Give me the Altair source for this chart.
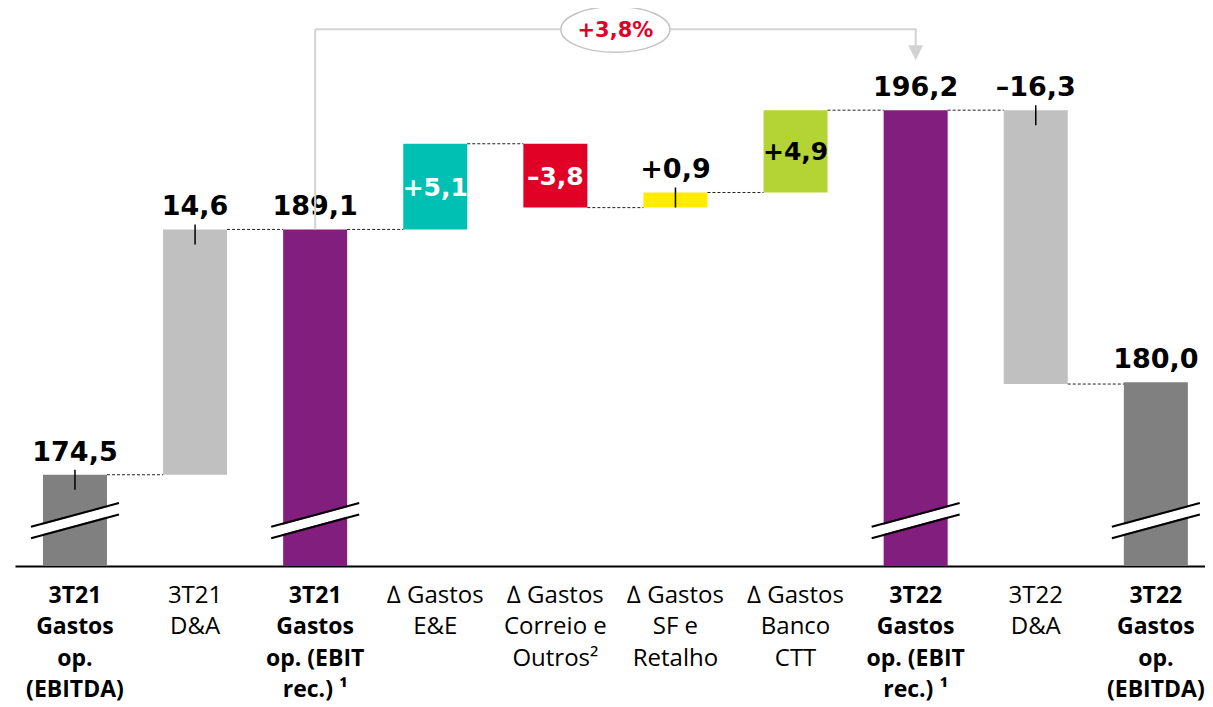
import altair as alt
import pandas as pd

# ---------------- data ----------------
categories = ["c01", "c02", "c03", "c04", "c05", "c06", "c07", "c08", "c09", "c10"]
axis_labels = [
    "3T21\nGastos\nop.\n(EBITDA)",
    "3T21\nD&A",
    "3T21\nGastos\nop. (EBIT\nrec.) ¹",
    "∆ Gastos\nE&E",
    "∆ Gastos\nCorreio e\nOutros²",
    "∆ Gastos\nSF e\nRetalho",
    "∆ Gastos\nBanco\nCTT",
    "3T22\nGastos\nop. (EBIT\nrec.) ¹",
    "3T22\nD&A",
    "3T22\nGastos\nop.\n(EBITDA)",
]
label_bold = [True, False, True, False, False, False, False, True, False, True]
kinds = ["total", "delta", "total", "delta", "delta", "delta", "delta", "total", "delta", "total"]
values = [174.5, 14.6, 189.1, 5.1, -3.8, 0.9, 4.9, 196.2, -16.3, 180.0]
value_text = ["174,5", "14,6", "189,1", "+5,1", "–3,8", "+0,9", "+4,9", "196,2", "–16,3", "180,0"]
label_place = ["above", "above", "above", "inside_white", "inside_white", "above",
               "inside_black", "above", "above", "above"]
has_tick = [True, True, False, False, False, True, False, False, True, False]
bar_colors = ["#808080", "#c0c0c0", "#821e7e", "#00bfb3", "#e10026", "#ffec00",
              "#b4d334", "#821e7e", "#c0c0c0", "#808080"]
growth_text = "+3,8%"
growth_from = "c03"
growth_to = "c08"
growth_mid = "c05"

# axis break (scale starts above zero)
y_min, y_max = 169.07, 202.28
break_level = 171.77

# ---------------- build waterfall table ----------------
rows = []
level = y_min
for i, c in enumerate(categories):
    v = values[i]
    if kinds[i] == "total":
        start, end = y_min, v
        level = v
    else:
        start, end = level, level + v
        level = end
    rows.append(dict(cat=c, label=axis_labels[i], bold=label_bold[i], kind=kinds[i],
                     start=start, end=end, top=max(start, end), mid=(start + end) / 2,
                     txt=value_text[i], place=label_place[i], tick=has_tick[i], level=level))
df = pd.DataFrame(rows)

conn = pd.DataFrame({
    "cat": categories[:-1],
    "next": categories[1:],
    "level": [r["level"] for r in rows[:-1]],
})
breaks = df[df["kind"] == "total"][["cat"]].assign(b=break_level)

xscale = alt.Scale(domain=categories, paddingInner=0.467, paddingOuter=0.1878, align=0.62)
yscale = alt.Scale(domain=[y_min, y_max], nice=False, zero=False)

X = alt.X("cat:N", sort=categories, scale=xscale,
          axis=alt.Axis(labels=False, ticks=False, title=None, domainColor="black",
                        domainWidth=2, grid=False))

base = alt.Chart(df)

bars = base.mark_bar().encode(
    x=X,
    y=alt.Y("start:Q", scale=yscale, axis=None),
    y2="end:Q",
    color=alt.Color("cat:N", scale=alt.Scale(domain=categories, range=bar_colors), legend=None),
)

connectors = alt.Chart(conn).mark_rule(
    xOffset=32, x2Offset=-32, strokeDash=[3, 2], strokeWidth=1, color="#222222"
).encode(x="cat:N", x2="next:N", y="level:Q")

# axis breaks
brk_white = alt.Chart(breaks).mark_rule(
    xOffset=-44, x2Offset=44, yOffset=12, y2Offset=-12, strokeWidth=9, color="white"
).encode(x="cat:N", x2="cat:N", y="b:Q", y2="b:Q")
brk_a = alt.Chart(breaks).mark_rule(
    xOffset=-44, x2Offset=44, yOffset=6.2, y2Offset=-17.6, strokeWidth=2, color="black"
).encode(x="cat:N", x2="cat:N", y="b:Q", y2="b:Q")
brk_b = alt.Chart(breaks).mark_rule(
    xOffset=-44, x2Offset=44, yOffset=17.6, y2Offset=-6.2, strokeWidth=2, color="black"
).encode(x="cat:N", x2="cat:N", y="b:Q", y2="b:Q")

num_font = dict(font="DejaVu Sans", fontWeight="bold", fontSize=27)
in_font = dict(font="DejaVu Sans", fontWeight="bold", fontSize=25)

above = base.transform_filter(alt.datum.place == "above").mark_text(
    dy=-14, baseline="alphabetic", color="black", **num_font
).encode(x="cat:N", y="top:Q", text="txt:N")

inside_w = base.transform_filter(alt.datum.place == "inside_white").mark_text(
    baseline="middle", dy=1, color="white", **in_font
).encode(x="cat:N", y="mid:Q", text="txt:N")

inside_b = base.transform_filter(alt.datum.place == "inside_black").mark_text(
    baseline="middle", dy=1, color="black", **in_font
).encode(x="cat:N", y="mid:Q", text="txt:N")

ticks = base.transform_filter(alt.datum.tick == True).mark_rule(
    yOffset=-5, y2Offset=15, strokeWidth=1.5, color="black"
).encode(x="cat:N", y="top:Q", y2="top:Q")

lab_common = dict(font="Open Sans", baseline="alphabetic", align="center",
                  lineBreak="\n", lineHeight=31.3, color="black")
labels_bold = base.transform_filter(alt.datum.bold == True).mark_text(
    fontWeight="bold", fontSize=23, **lab_common
).encode(x="cat:N", y=alt.value(595), text="label:N")
labels_norm = base.transform_filter(alt.datum.bold == False).mark_text(
    fontWeight="normal", fontSize=24, **lab_common
).encode(x="cat:N", y=alt.value(595), text="label:N")

# growth annotation
ann_src = df[df["cat"] == growth_from][["cat", "top"]]
ann = pd.DataFrame({"a": [growth_from], "b": [growth_to], "m": [growth_mid], "t": [growth_text]})
gray = "#d3d3d3"
v1 = alt.Chart(ann_src).mark_rule(color=gray, strokeWidth=2).encode(
    x="cat:N", y="top:Q", y2=alt.value(21.3))
h1 = alt.Chart(ann).mark_rule(color=gray, strokeWidth=2).encode(
    x="a:N", x2="b:N", y=alt.value(21.3))
v2 = alt.Chart(ann).mark_rule(color=gray, strokeWidth=2).encode(
    x="b:N", y=alt.value(20.3), y2=alt.value(38))
arrow = alt.Chart(ann).mark_point(
    shape="M-1,-1L1,-1L0,1Z", filled=True, color=gray, size=225, opacity=1
).encode(x="b:N", y=alt.value(44.8))
ellipse = alt.Chart(ann).mark_point(
    shape="M-1,0A1,0.42,0,1,1,1,0A1,0.42,0,1,1,-1,0Z", filled=False, fill="white",
    fillOpacity=1, stroke="#c4c4c4", strokeWidth=1.5, size=109 * 109, xOffset=60, opacity=1
).encode(x="m:N", y=alt.value(21.4))
gtext = alt.Chart(ann).mark_text(
    dx=60, dy=1.5, baseline="middle", color="#e10026", font="DejaVu Sans",
    fontWeight="bold", fontSize=21
).encode(x="m:N", y=alt.value(21.4), text="t:N")

chart = alt.layer(
    bars, connectors, brk_white, brk_a, brk_b, ticks, above, inside_w, inside_b,
    labels_bold, labels_norm, v1, h1, v2, arrow, ellipse, gtext
).properties(
    width=1190, height=558,
    background="white",
    autosize=alt.AutoSizeParams(type="none"),
    padding={"left": 7, "top": 0, "right": 0, "bottom": 141},
).configure_view(strokeWidth=0, stroke="transparent")

chart.save("out.html", embed_options={"renderer": "svg", "actions": False})
